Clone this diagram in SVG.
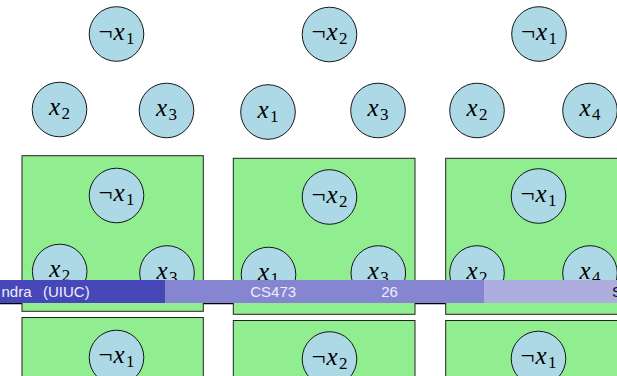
<svg xmlns="http://www.w3.org/2000/svg" width="617" height="376" viewBox="0 0 617 376">
<style>
.c{fill:#ADD8E6;stroke:#000;stroke-width:0.9}
.b{fill:#90EE90;stroke:#222;stroke-width:1}
.l{font-family:"Liberation Serif","Times New Roman",serif;text-anchor:middle;fill:#000}
.n{font-size:25px;font-style:normal}
.v{font-style:italic;font-size:25px}
.s{font-size:17px;font-style:normal}
.ft{font-family:"Liberation Sans",Arial,sans-serif;font-size:15px;fill:#EEEEFA}
</style>
<rect width="617" height="376" fill="#fff"/>
<g id="top-1">
<g id="t1-negx1"><circle class="c" cx="116.5" cy="34" r="27.3"/><text class="l" x="116.5" y="39.8"><tspan class="n">¬</tspan><tspan class="v" dx="1">x</tspan><tspan class="s" dx="1.5" dy="3.8">1</tspan></text></g>
<g id="t1-x2"><circle class="c" cx="59.5" cy="109.5" r="27.3"/><text class="l" x="59.5" y="115.3"><tspan class="v">x</tspan><tspan class="s" dx="1.5" dy="3.8">2</tspan></text></g>
<g id="t1-x3"><circle class="c" cx="166.5" cy="110.5" r="27.3"/><text class="l" x="166.5" y="116.3"><tspan class="v">x</tspan><tspan class="s" dx="1.5" dy="3.8">3</tspan></text></g>
</g>
<g id="top-2">
<g id="t2-negx2"><circle class="c" cx="329.5" cy="34.5" r="27.3"/><text class="l" x="329.5" y="40.3"><tspan class="n">¬</tspan><tspan class="v" dx="1">x</tspan><tspan class="s" dx="1.5" dy="3.8">2</tspan></text></g>
<g id="t2-x1"><circle class="c" cx="268" cy="112" r="27.3"/><text class="l" x="268" y="117.8"><tspan class="v">x</tspan><tspan class="s" dx="1.5" dy="3.8">1</tspan></text></g>
<g id="t2-x3"><circle class="c" cx="378" cy="110.5" r="27.3"/><text class="l" x="378" y="116.3"><tspan class="v">x</tspan><tspan class="s" dx="1.5" dy="3.8">3</tspan></text></g>
</g>
<g id="top-3">
<g id="t3-negx1"><circle class="c" cx="539" cy="34" r="27.3"/><text class="l" x="539" y="39.8"><tspan class="n">¬</tspan><tspan class="v" dx="1">x</tspan><tspan class="s" dx="1.5" dy="3.8">1</tspan></text></g>
<g id="t3-x2"><circle class="c" cx="477" cy="110.5" r="27.3"/><text class="l" x="477" y="116.3"><tspan class="v">x</tspan><tspan class="s" dx="1.5" dy="3.8">2</tspan></text></g>
<g id="t3-x4"><circle class="c" cx="590" cy="110.5" r="27.3"/><text class="l" x="590" y="116.3"><tspan class="v">x</tspan><tspan class="s" dx="1.5" dy="3.8">4</tspan></text></g>
</g>
<g id="connectors">
<line x1="0" y1="303.6" x2="617" y2="303.6" stroke="#000" stroke-width="1.4"/>
</g>
<g id="box-A">
<rect class="b" x="22" y="155.7" width="181.3" height="155.6"/>
<g id="A-negx1"><circle class="c" cx="116.5" cy="195.5" r="27.3"/><text class="l" x="116.5" y="201.3"><tspan class="n">¬</tspan><tspan class="v" dx="1">x</tspan><tspan class="s" dx="1.5" dy="3.8">1</tspan></text></g>
<g id="A-x2"><circle class="c" cx="59.7" cy="271.5" r="27.3"/><text class="l" x="59.7" y="277.3"><tspan class="v">x</tspan><tspan class="s" dx="1.5" dy="3.8">2</tspan></text></g>
<g id="A-x3"><circle class="c" cx="167" cy="273" r="27.3"/><text class="l" x="167" y="278.8"><tspan class="v">x</tspan><tspan class="s" dx="1.5" dy="3.8">3</tspan></text></g>
</g>
<g id="box-B">
<rect class="b" x="233.3" y="158.3" width="181.7" height="156"/>
<g id="B-negx2"><circle class="c" cx="329.5" cy="197" r="27.3"/><text class="l" x="329.5" y="202.8"><tspan class="n">¬</tspan><tspan class="v" dx="1">x</tspan><tspan class="s" dx="1.5" dy="3.8">2</tspan></text></g>
<g id="B-x1"><circle class="c" cx="268.5" cy="274.5" r="27.3"/><text class="l" x="268.5" y="280.3"><tspan class="v">x</tspan><tspan class="s" dx="1.5" dy="3.8">1</tspan></text></g>
<g id="B-x3"><circle class="c" cx="378.3" cy="273" r="27.3"/><text class="l" x="378.3" y="278.8"><tspan class="v">x</tspan><tspan class="s" dx="1.5" dy="3.8">3</tspan></text></g>
</g>
<g id="box-C">
<rect class="b" x="445.7" y="158.3" width="200" height="156"/>
<g id="C-negx1"><circle class="c" cx="538.5" cy="196" r="27.3"/><text class="l" x="538.5" y="201.8"><tspan class="n">¬</tspan><tspan class="v" dx="1">x</tspan><tspan class="s" dx="1.5" dy="3.8">1</tspan></text></g>
<g id="C-x2"><circle class="c" cx="477" cy="273" r="27.3"/><text class="l" x="477" y="278.8"><tspan class="v">x</tspan><tspan class="s" dx="1.5" dy="3.8">2</tspan></text></g>
<g id="C-x4"><circle class="c" cx="590" cy="273" r="27.3"/><text class="l" x="590" y="278.8"><tspan class="v">x</tspan><tspan class="s" dx="1.5" dy="3.8">4</tspan></text></g>
</g>
<g id="box-A2">
<rect class="b" x="22" y="317.5" width="181.3" height="160"/>
<g id="A2-negx1"><circle class="c" cx="116.5" cy="357.5" r="27.3"/><text class="l" x="116.5" y="363.3"><tspan class="n">¬</tspan><tspan class="v" dx="1">x</tspan><tspan class="s" dx="1.5" dy="3.8">1</tspan></text></g>
</g>
<g id="box-B2">
<rect class="b" x="233.3" y="320.5" width="181.7" height="160"/>
<g id="B2-negx2"><circle class="c" cx="329.5" cy="359" r="27.3"/><text class="l" x="329.5" y="364.8"><tspan class="n">¬</tspan><tspan class="v" dx="1">x</tspan><tspan class="s" dx="1.5" dy="3.8">2</tspan></text></g>
</g>
<g id="box-C2">
<rect class="b" x="445.7" y="320.5" width="200" height="160"/>
<g id="C2-negx1"><circle class="c" cx="538.5" cy="358.5" r="27.3"/><text class="l" x="538.5" y="364.3"><tspan class="n">¬</tspan><tspan class="v" dx="1">x</tspan><tspan class="s" dx="1.5" dy="3.8">1</tspan></text></g>
</g>
<g id="footline">
<rect x="0" y="280" width="165" height="23" fill="#4747BA"/>
<rect x="165" y="280" width="319" height="23" fill="#8585D1"/>
<rect x="484" y="280" width="133" height="23" fill="#ADADE0"/>
<text class="ft" x="31.5" y="296.5" text-anchor="end">ndra</text>
<text class="ft" x="43" y="296.5">(UIUC)</text>
<text class="ft" x="273.2" y="296.5" text-anchor="middle">CS473</text>
<text class="ft" x="389.5" y="296.5" text-anchor="middle">26</text>
<text class="ft" x="612" y="296.5" style="fill:#111">S</text>
</g>
</svg>
